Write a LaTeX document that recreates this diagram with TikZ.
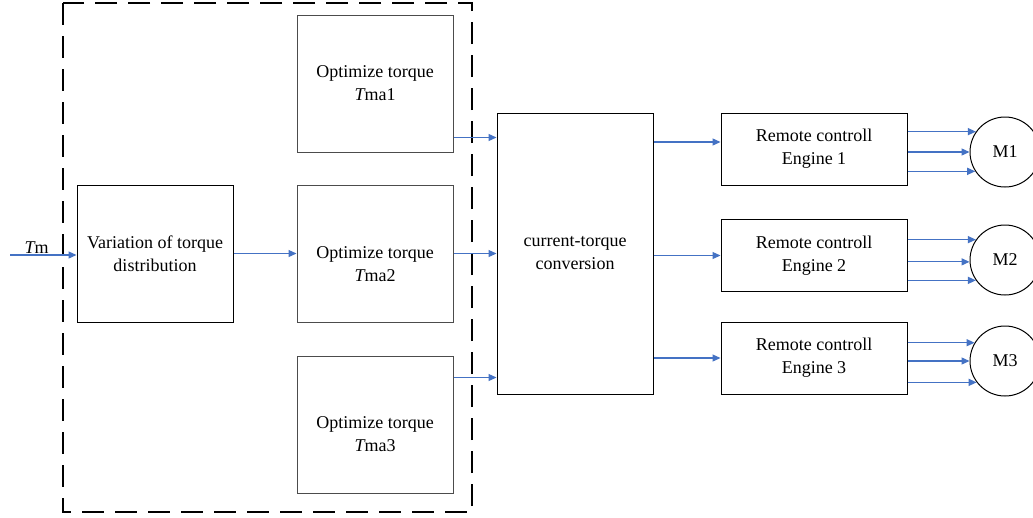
\documentclass[tikz,border=0pt]{standalone}
\usepackage{fontspec}
\setmainfont{Liberation Serif}
\usetikzlibrary{arrows.meta}
\definecolor{arrblue}{HTML}{4472C4}
\begin{document}
\begin{tikzpicture}[x=1pt,y=-1pt,
  box/.style={draw=black, line width=1pt, rectangle, inner sep=0pt, align=center},
  optbox/.style={draw=black!70, line width=1pt, rectangle, inner sep=0pt, minimum width=156pt, minimum height=137pt},
  txt/.style={inner sep=0pt, align=center},
  motor/.style={draw=black, line width=1pt, circle, minimum size=70pt, inner sep=0pt},
  arr/.style={draw=arrblue, line width=1.25pt, -{Triangle[length=8pt,width=7pt]}},
  every node/.style={font=\fontsize{18}{23}\selectfont}]
\useasboundingbox (0,0) rectangle (1033,517);
\fill[white] (0,0) rectangle (1033,517);
% dashed frame
\draw[line width=1.3pt, dash pattern=on 22pt off 11pt] (63,3) rectangle (472,512);
% boxes
\node[box, minimum width=156pt, minimum height=137pt] (var) at (155,253.5) {Variation of torque\\distribution};
\node[optbox] (opt1) at (375,83.5) {};
\node[txt] (opt1t) at (375,83.5) {Optimize torque\\{\itshape T}ma1};
\node[optbox] (opt2) at (375,253.5) {};
\node[txt] (opt2t) at ([yshift=-11pt]opt2.center) {Optimize torque\\{\itshape T}ma2};
\node[optbox] (opt3) at (375,424.5) {};
\node[txt] (opt3t) at ([yshift=-10pt]opt3.center) {Optimize torque\\{\itshape T}ma3};
\node[box, minimum width=156pt, minimum height=281pt] (ct) at (575,253.5) {current-torque\\conversion};
\node[box, minimum width=186pt, minimum height=72pt] (rc1) at (814,149) {Remote controll\\Engine 1};
\node[box, minimum width=186pt, minimum height=72pt] (rc2) at (814,255.5) {Remote controll\\Engine 2};
\node[box, minimum width=186pt, minimum height=72pt] (rc3) at (814,358) {Remote controll\\Engine 3};
\node[motor] (m1) at (1005,152) {M1};
\node[motor] (m2) at (1005,260) {M2};
\node[motor] (m3) at (1005,361) {M3};
% input
\coordinate (tmin) at (10,255);
\draw[arr] (tmin) -- (tmin -| var.west) node[pos=0.4, above, inner sep=1pt] (tml) {{\itshape T}m};
\draw[arr] (var.east) -- (var.east -| opt2.west);
% optimize -> ct
\coordinate (o1) at ([yshift=15pt]opt1.south east);
\coordinate (o2) at (opt2.east);
\coordinate (o3) at ([yshift=-22pt]opt3.north east);
\draw[arr] (o1) -- (o1 -| ct.west);
\draw[arr] (o2) -- (o2 -| ct.west);
\draw[arr] (o3) -- (o3 -| ct.west);
% ct -> remote
\coordinate (r1) at ([yshift=7pt]rc1.west);
\coordinate (r2) at (rc2.west);
\coordinate (r3) at (rc3.west);
\draw[arr] (r1 -| ct.east) -- (r1);
\draw[arr] (r2 -| ct.east) -- (r2);
\draw[arr] (r3 -| ct.east) -- (r3);
% remote -> motors
\foreach \a in {145,180,213} \draw[arr] (rc1.east |- m1.\a) -- (m1.\a);
\foreach \a in {145,183,215} \draw[arr] (rc2.east |- m2.\a) -- (m2.\a);
\foreach \a in {149,180,217} \draw[arr] (rc3.east |- m3.\a) -- (m3.\a);
\end{tikzpicture}
\end{document}
